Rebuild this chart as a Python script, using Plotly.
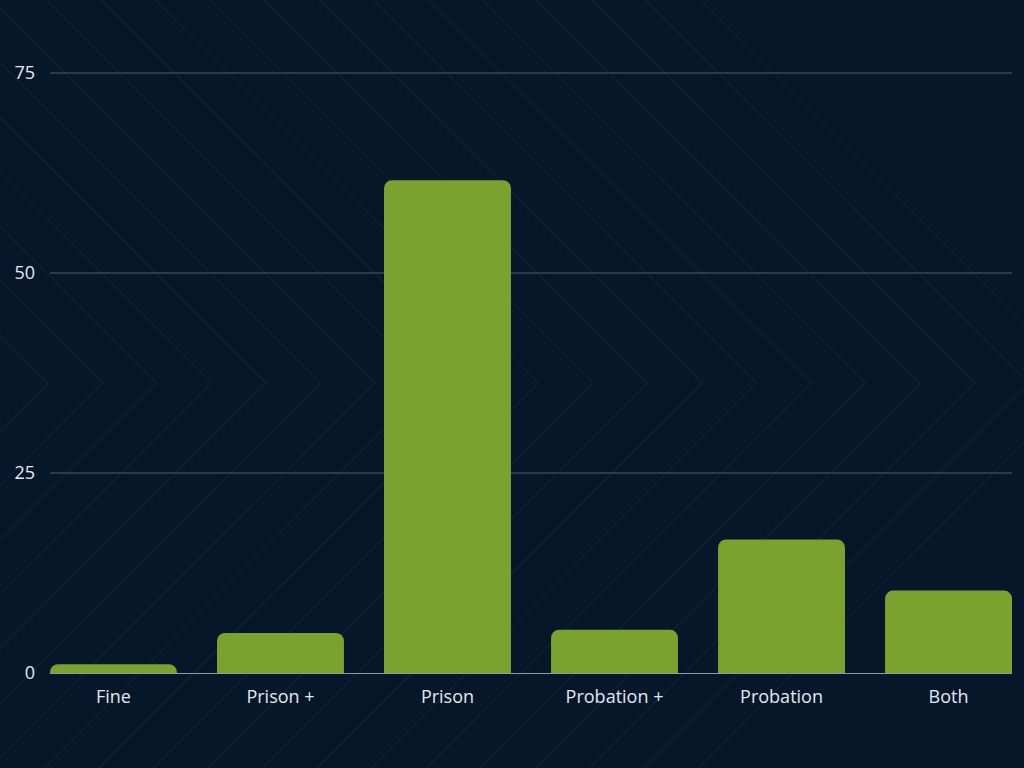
import plotly.graph_objects as go

categories = ["Fine", "Prison +", "Prison", "Probation +", "Probation", "Both"]
values = [1.1, 5.0, 61.6, 5.4, 16.7, 10.3]
y_ticks = [0, 25, 50, 75]

BG = "#07172a"
BAR = "#7aa22f"
TXT = "#e2e8ee"

W, H = 1024, 768
ML, MR, MT, MB = 50, 12, 71, 95
PW, PH = W - ML - MR, H - MT - MB

fig = go.Figure(
    go.Bar(
        x=categories,
        y=values,
        marker=dict(color=BAR, line=dict(width=0)),
        hoverinfo="x+y",
    )
)


def px_to_paper(px, py):
    return (px - ML) / PW, (H - MB - py) / PH


# faint decorative chevron background pattern
shapes = []
apex_y = 383
for i in range(-2, 20):
    ax = 48 + i * 54.5
    pts = [(ax - 400, apex_y - 400), (ax, apex_y), (ax - 400, apex_y + 400)]
    conv = [px_to_paper(x, y) for x, y in pts]
    path = "M {:.4f},{:.4f} L {:.4f},{:.4f} L {:.4f},{:.4f}".format(
        conv[0][0], conv[0][1], conv[1][0], conv[1][1], conv[2][0], conv[2][1]
    )
    shapes.append(
        dict(
            type="path",
            xref="paper",
            yref="paper",
            path=path,
            line=dict(color="rgba(255,255,255,0.045)", width=1.5),
            layer="below",
        )
    )

fig.update_layout(
    width=W,
    height=H,
    paper_bgcolor=BG,
    plot_bgcolor="rgba(0,0,0,0)",
    margin=dict(l=ML, r=MR, t=MT, b=MB),
    bargap=0.24,
    barcornerradius=8,
    showlegend=False,
    font=dict(family="Open Sans, sans-serif", size=18, color=TXT),
    shapes=shapes,
)

fig.update_xaxes(
    range=[-0.38, 5.38],
    showgrid=False,
    showline=True,
    linecolor="#8f9aa6",
    linewidth=1,
    ticks="",
    tickfont=dict(size=18, color=TXT),
    ticklabelstandoff=7,
)

fig.update_yaxes(
    range=[0, 75.25],
    tickvals=y_ticks,
    ticktext=[str(v) for v in y_ticks],
    showgrid=True,
    gridcolor="#2c3b4b",
    gridwidth=1.5,
    zeroline=False,
    showline=False,
    ticks="",
    tickfont=dict(size=18, color=TXT),
    ticklabelstandoff=14,
)

fig.write_html(
    "out.html",
    config={"displayModeBar": False},
    post_script="document.body.style.margin='0';document.body.style.background='#07172a';",
)
